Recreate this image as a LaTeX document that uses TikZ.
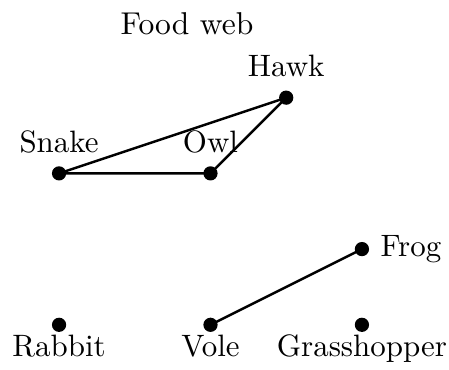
\documentclass[tikz,border=0pt]{standalone}
\usepackage{xcolor}
\usepackage{tikz}

\begin{document}
\begin{tikzpicture}[x=0.86cm,y=0.86cm]
\useasboundingbox (-0.78,-0.59) rectangle (5.15,4.29);
\tikzset{animal/.style={circle,fill=black,inner sep=0pt,minimum size=4.6pt},
  up/.style={label distance=0.6pt},
  down/.style={label distance=-2.7pt}}

\node (title) at (1.69,3.97) {\fontsize{10.2}{12}\selectfont Food web};

% predators
\node[animal,label={[up]above:Snake}] (snake) at (0,2) {};
\node[animal,label={[up]above:Owl}] (owl) at (2,2) {};
\node[animal,label={[up]above:Hawk}] (hawk) at (3,3) {};
\node[animal,label=right:Frog] (frog) at (4,1) {};

% prey
\node[animal,label={[down]below:Rabbit}] (rabbit) at (0,0) {};
\node[animal,label={[down]below:Vole}] (vole) at (2,0) {};
\node[animal,label={[down]below:Grasshopper}] (grasshopper) at (4,0) {};

\draw[thick] (snake.center) -- (hawk.center) -- (owl.center) -- (snake.center);
\draw[thick] (vole.center) -- (frog.center);

\end{tikzpicture}
\end{document}
